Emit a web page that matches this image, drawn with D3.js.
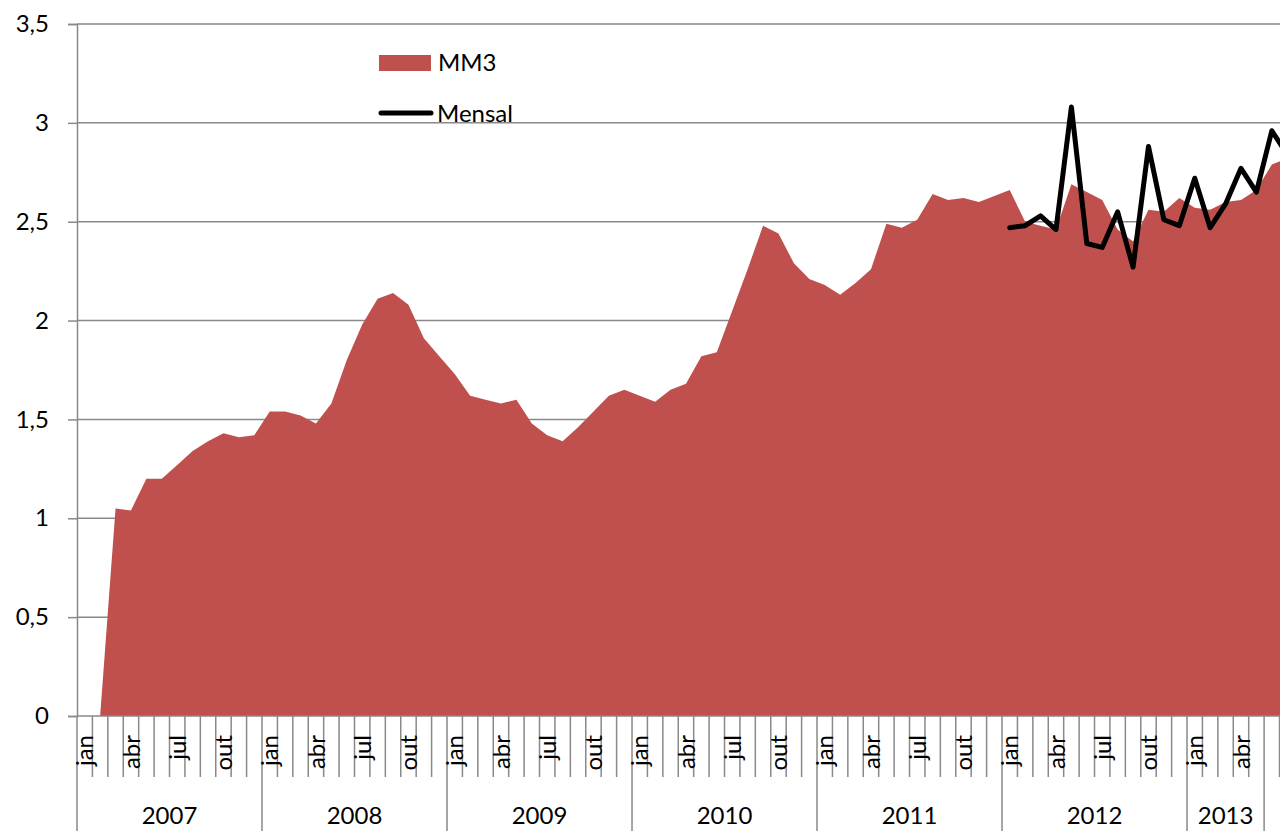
<!DOCTYPE html>
<html>
<head>
<meta charset="utf-8">
<script src="https://cdn.jsdelivr.net/npm/d3@7"></script>
<style>
  html, body { margin: 0; padding: 0; background: #fff; }
  svg { display: block; font-family: Lato, "Open Sans", sans-serif; }
</style>
</head>
<body>
<div id="chart"></div>
<script>
// month names shown on the axis (only every third one gets a label)
const monthNames = ["jan", "fev", "mar", "abr", "mai", "jun", "jul", "ago", "set", "out", "nov", "dez"];
// year groups of the second axis level and how many months each covers
const yearLabels = ["2007", "2008", "2009", "2010", "2011", "2012", "2013", ""];
const yearMonths = [12, 12, 12, 12, 12, 12, 5, 2];

// MM3 (3-month moving average), jan 2007 .. jul 2013
const mm3 = [
  0, 0, 1.05, 1.04, 1.20, 1.20, 1.27, 1.34, 1.39, 1.43, 1.41, 1.42,
  1.54, 1.54, 1.52, 1.48, 1.58, 1.80, 1.98, 2.11, 2.14, 2.08, 1.91, 1.82,
  1.73, 1.62, 1.60, 1.58, 1.60, 1.48, 1.42, 1.39, 1.46, 1.54, 1.62, 1.65,
  1.62, 1.59, 1.65, 1.68, 1.82, 1.84, 2.05, 2.26, 2.48, 2.44, 2.29, 2.21,
  2.18, 2.13, 2.19, 2.26, 2.49, 2.47, 2.51, 2.64, 2.61, 2.62, 2.60, 2.63,
  2.66, 2.50, 2.48, 2.46, 2.69, 2.65, 2.61, 2.46, 2.40, 2.56, 2.55, 2.62,
  2.57, 2.56, 2.60, 2.61, 2.66, 2.79, 2.82
];
// Mensal (monthly), starts jan 2012
const mensal = [
  null, null, null, null, null, null, null, null, null, null, null, null,
  null, null, null, null, null, null, null, null, null, null, null, null,
  null, null, null, null, null, null, null, null, null, null, null, null,
  null, null, null, null, null, null, null, null, null, null, null, null,
  null, null, null, null, null, null, null, null, null, null, null, null,
  2.47, 2.48, 2.53, 2.46, 3.08, 2.39, 2.37, 2.55, 2.27, 2.88, 2.51, 2.48,
  2.72, 2.47, 2.59, 2.77, 2.65, 2.96, 2.84
];
const yTicks = [0, 0.5, 1, 1.5, 2, 2.5, 3, 3.5];

const width = 1280;
const height = 831;
const plotLeft = 77;
const monthW = 15.417;
const plotTop = 24;
const plotBottom = 716;

// build categories from the year groups
let cats = [];
yearMonths.forEach(function (n, g) {
  for (let k = 0; k < n; k++) {
    let m = cats.length % 12;
    cats.push({ i: cats.length, month: monthNames[m], m: m, group: g });
  }
});

const x = d3.scaleBand()
  .domain(cats.map((d) => d.i))
  .range([plotLeft, plotLeft + monthW * cats.length])
  .padding(0);
const cx = (i) => x(i) + x.bandwidth() / 2;

const y = d3.scaleLinear().domain([0, 3.5]).range([plotBottom, plotTop]);

const ptFmt = d3.formatLocale({ decimal: ",", thousands: ".", grouping: [3], currency: ["", ""] }).format(".1~f");

let svg = d3.select("#chart")
  .append("svg")
  .attr("width", width)
  .attr("height", height);

const gridColor = "#898989";

// gridlines
svg.append("g")
  .selectAll("line")
  .data(yTicks.filter((d) => d > 0))
  .enter()
  .append("line")
  .attr("x1", plotLeft)
  .attr("x2", width)
  .attr("y1", (d) => y(d))
  .attr("y2", (d) => y(d))
  .attr("stroke", gridColor)
  .attr("stroke-width", 1.5);

// area MM3
let area = d3.area()
  .x((d, i) => cx(i))
  .y0(y(0))
  .y1((d) => y(d));

svg.append("path")
  .datum(mm3)
  .attr("d", area)
  .attr("fill", "#C0504D");

// line Mensal
let line = d3.line()
  .defined((d) => d !== null)
  .x((d, i) => cx(i))
  .y((d) => y(d));

svg.append("path")
  .datum(mensal)
  .attr("d", line)
  .attr("fill", "none")
  .attr("stroke", "#000")
  .attr("stroke-width", 5)
  .attr("stroke-linejoin", "round")
  .attr("stroke-linecap", "round");

// y axis
let yAxis = d3.axisLeft(y)
  .tickValues(yTicks)
  .tickSize(9)
  .tickPadding(19)
  .tickFormat(ptFmt);

let gy = svg.append("g")
  .attr("transform", "translate(" + plotLeft + ",0)")
  .call(yAxis);
gy.select(".domain").attr("stroke", gridColor).attr("stroke-width", 1.5);
gy.selectAll(".tick line").attr("stroke", gridColor).attr("stroke-width", 1.5);
gy.selectAll(".tick text")
  .attr("font-family", "Lato, sans-serif")
  .attr("font-size", 24)
  .attr("fill", "#000");

// x axis (two levels)
let gx = svg.append("g");
gx.append("line")
  .attr("x1", plotLeft).attr("x2", width)
  .attr("y1", plotBottom).attr("y2", plotBottom)
  .attr("stroke", gridColor).attr("stroke-width", 1.5);

// month boundaries (short), group boundaries (long)
let groupStarts = new Set();
let acc = 0;
yearMonths.forEach(function (n) { groupStarts.add(acc); acc += n; });
groupStarts.add(acc);

let bounds = d3.range(cats.length + 1);
gx.selectAll(".mtick")
  .data(bounds)
  .enter()
  .append("line")
  .attr("class", "mtick")
  .attr("x1", (b) => plotLeft + b * x.bandwidth())
  .attr("x2", (b) => plotLeft + b * x.bandwidth())
  .attr("y1", plotBottom)
  .attr("y2", (b) => (groupStarts.has(b) ? height : 777))
  .attr("stroke", gridColor)
  .attr("stroke-width", 1.5);

// month labels every third month, only inside labelled year groups
gx.selectAll(".mlabel")
  .data(cats.filter((d) => d.m % 3 === 0 && yearLabels[d.group] !== ""))
  .enter()
  .append("text")
  .attr("class", "mlabel")
  .attr("transform", (d) => "translate(" + cx(d.i) + ",735) rotate(-90)")
  .attr("dy", "0.36em")
  .attr("text-anchor", "end")
  .attr("font-size", 24)
  .text((d) => d.month);

// year labels centred on their group
let groups = yearLabels.map(function (lab, g) {
  let members = cats.filter((d) => d.group === g);
  let x0 = x(members[0].i);
  let x1 = x(members[members.length - 1].i) + x.bandwidth();
  return { label: lab, mid: (x0 + x1) / 2 };
});

gx.selectAll(".ylabel")
  .data(groups.filter((d) => d.label !== ""))
  .enter()
  .append("text")
  .attr("class", "ylabel")
  .attr("x", (d) => d.mid)
  .attr("y", 824)
  .attr("text-anchor", "middle")
  .attr("font-size", 24)
  .text((d) => d.label);

// legend
let legend = svg.append("g");
legend.append("rect")
  .attr("x", 379).attr("y", 55)
  .attr("width", 52).attr("height", 16)
  .attr("fill", "#C0504D");
legend.append("text")
  .attr("x", 438).attr("y", 71)
  .attr("font-size", 24)
  .text("MM3");
legend.append("line")
  .attr("x1", 381).attr("x2", 431)
  .attr("y1", 113).attr("y2", 113)
  .attr("stroke", "#000")
  .attr("stroke-width", 5)
  .attr("stroke-linecap", "round");
legend.append("text")
  .attr("x", 437).attr("y", 122)
  .attr("font-size", 24)
  .text("Mensal");
</script>
</body>
</html>
